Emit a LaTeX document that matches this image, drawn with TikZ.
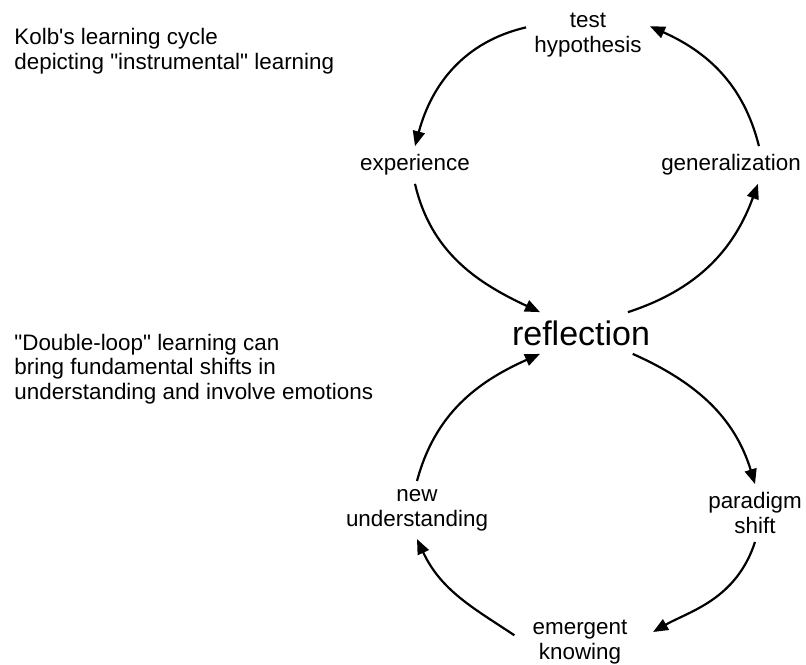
\documentclass[tikz,border=0pt]{standalone}
\usepackage{fontspec}
\setmainfont{Liberation Sans}
\usetikzlibrary{arrows.meta}

\tikzset{
  stage/.style={align=center, inner sep=4pt, font=\fontsize{11.2}{12.3}\selectfont},
  note/.style={align=left, inner sep=0pt, anchor=west, font=\fontsize{11.2}{12.3}\selectfont},
  cyc/.style={-{Triangle[length=7.5pt,width=6pt]}, line width=1.1pt}
}

\begin{document}
\begin{tikzpicture}[x=0.5pt, y=-0.5pt]
  \useasboundingbox (0,0) rectangle (806,664);

  % notes
  \node[note](KolbNote) at (14,51){Kolb\textquotesingle s learning cycle\\depicting \textquotedbl instrumental\textquotedbl\ learning};
  \node[note](DoubleNote) at (14,369){\textquotedbl Double-loop\textquotedbl\ learning can\\bring fundamental shifts in\\understanding and involve emotions};

  % centre
  \node[stage, font=\fontsize{17}{20}\selectfont](Reflection) at (581,333){reflection};

  % single loop
  \node[stage](TestHyp) at (588,35){test\\hypothesis};
  \node[stage](Experience) at (415,165){experience};
  \node[stage](Generalization) at (731,165){generalization};
  \draw[cyc] (TestHyp.173) to[out=193, in=75] (Experience.north);
  \draw[cyc] (Experience.south) to[out=-77, in=155] (Reflection.153);
  \draw[cyc] (Reflection.24) to[out=18, in=250] (Generalization.-35);
  \draw[cyc] (Generalization.34) to[out=104, in=-24] (TestHyp.8);

  % double loop
  \node[stage](ParadigmShift) at (755,513){paradigm\\shift};
  \node[stage](EmergentKnowing) at (580,642){emergent\\knowing};
  \node[stage](NewUnderstanding) at (417,510){new\\understanding};
  \draw[cyc] (Reflection.-22) to[out=-24, in=107] (ParadigmShift.north);
  \draw[cyc, shorten >=10pt] (ParadigmShift.south) to[out=252, in=30] (EmergentKnowing.east);
  \draw[cyc, shorten <=6pt] (EmergentKnowing.west) to[out=146, in=-65] (NewUnderstanding.south);
  \draw[cyc] (NewUnderstanding.north) to[out=75, in=204] (Reflection.-153);
\end{tikzpicture}
\end{document}
